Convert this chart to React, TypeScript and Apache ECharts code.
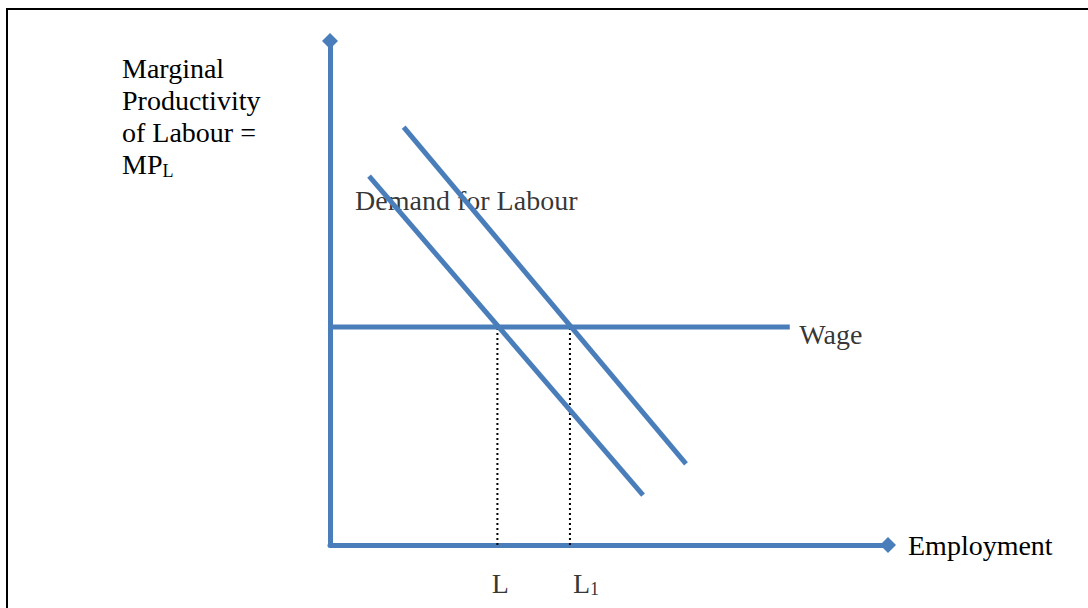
import React, { useEffect, useRef } from "react";
import * as echarts from "echarts";

// ---- data (economic units) ----
const xMax = 100;
const yMax = 100;
const wage = 43.25;
const employmentL = 30;
const employmentL1 = 43;
const demandA: number[][] = [[7.0, 73.2], [56.1, 9.9]];
const demandB: number[][] = [[13.2, 82.9], [63.8, 16.1]];
const wageEnd = 82.4;
const yTitleLines = ["Marginal", "Productivity", "of Labour ="];
const yTitleSymbol = ["MP", "L"];
const demandLabel = { text: "Demand for Labour", at: [4.5, 68.3] };
const wageLabel = { text: "Wage", at: [84.1, 41.7] };
const xTitle = "Employment";
const tickLabels = [
  { value: employmentL, main: "L", sub: "" },
  { value: employmentL1, main: "L", sub: "1" },
];

const BLUE = "#4a7ebb";
const FONT = '"Liberation Serif", "Times New Roman", serif';
const FS = 28;

export default function App() {
  const ref = useRef<HTMLDivElement>(null);
  useEffect(() => {
    if (!ref.current) return;
    const chart = echarts.init(ref.current, null, { renderer: "svg" });
    const blueLine = (name: string, data: number[][]) => ({
      name,
      type: "line",
      data,
      symbol: "none",
      z: 5,
      lineStyle: { color: BLUE, width: 5 },
      silent: true,
    });
    const dotted = (x: number) => ({
      type: "line",
      data: [[x, 0], [x, wage]],
      symbol: "none",
      z: 3,
      lineStyle: { color: "#000", width: 2, type: [2, 3] },
      silent: true,
    });
    const textLabel = (d: any, align: string) => ({
      type: "scatter",
      data: [d.at],
      symbol: "circle",
      symbolSize: 1,
      clip: false,
      itemStyle: { color: "transparent" },
      silent: true,
      z: 4,
      label: {
        show: true,
        position: "inside",
        align,
        verticalAlign: "middle",
        formatter: d.text,
        color: "#000",
        textBorderWidth: 0,
        fontFamily: FONT,
        fontSize: FS,
      },
    });
    const tickSeries = tickLabels.map((t, i) => ({
      type: "scatter",
      data: [[t.value, 0]],
      symbol: "circle",
      symbolSize: 1,
      clip: false,
      itemStyle: { color: "transparent" },
      silent: true,
      label: {
        show: true,
        position: "inside",
        align: i === 0 ? "center" : "left",
        verticalAlign: "middle",
        offset: [3, 38],
        formatter: t.sub ? `{a|${t.main}}{s|${t.sub}}` : `{a|${t.main}}`,
        rich: {
          a: { fontFamily: FONT, fontSize: FS, color: "#000", lineHeight: 30, textBorderWidth: 0 },
          s: { fontFamily: FONT, fontSize: 18, color: "#000", lineHeight: 10, verticalAlign: "bottom", textBorderWidth: 0 },
        },
      },
    }));
    const option: any = {
      animation: false,
      backgroundColor: "#fff",
      grid: { left: 330, top: 41, width: 558, height: 504, containLabel: false },
      xAxis: {
        type: "value",
        min: 0,
        max: xMax,
        splitLine: { show: false },
        axisTick: { show: false },
        axisLabel: { show: false },
        axisLine: {
          show: true,
          symbol: ["none", "diamond"],
          symbolSize: [16, 16],
          lineStyle: { color: BLUE, width: 5 },
        },
        name: xTitle,
        nameLocation: "end",
        nameGap: 20,
        nameTextStyle: {
          fontFamily: FONT,
          fontSize: FS,
          color: "#000",
          align: "left",
          verticalAlign: "middle",
          padding: [22, 0, 0, 0],
        },
      },
      yAxis: {
        type: "value",
        min: 0,
        max: yMax,
        splitLine: { show: false },
        axisTick: { show: false },
        axisLabel: { show: false },
        axisLine: {
          show: true,
          symbol: ["none", "diamond"],
          symbolSize: [16, 16],
          lineStyle: { color: BLUE, width: 5 },
        },
      },
      graphic: [
        {
          type: "rect",
          shape: { x: 7, y: 9, width: 1300, height: 800 },
          style: { fill: "none", stroke: "#000", lineWidth: 2 },
          silent: true,
        },
        {
          type: "text",
          x: 122,
          y: 52,
          style: {
            text: yTitleLines.join("\n") + `\n{m|${yTitleSymbol[0]}}{s|${yTitleSymbol[1]}}`,
            fontFamily: FONT,
            fontSize: FS,
            lineHeight: 32,
            fill: "#000",
            rich: {
              m: { fontFamily: FONT, fontSize: FS, lineHeight: 32, fill: "#000" },
              s: { fontFamily: FONT, fontSize: 18, lineHeight: 10, fill: "#000", verticalAlign: "bottom" },
            },
          },
        },
      ],
      series: [
        dotted(employmentL),
        dotted(employmentL1),
        blueLine("Wage", [[0, wage], [wageEnd, wage]]),
        blueLine("Demand A", demandA),
        blueLine("Demand B", demandB),
        textLabel(demandLabel, "left"),
        textLabel(wageLabel, "left"),
        ...tickSeries,
      ],
    };
    chart.setOption(option);
    return () => chart.dispose();
  }, []);
  return (
    <div
      ref={ref}
      style={{ position: "fixed", left: 0, top: 0, width: 1088, height: 608, background: "#fff" }}
    />
  );
}
